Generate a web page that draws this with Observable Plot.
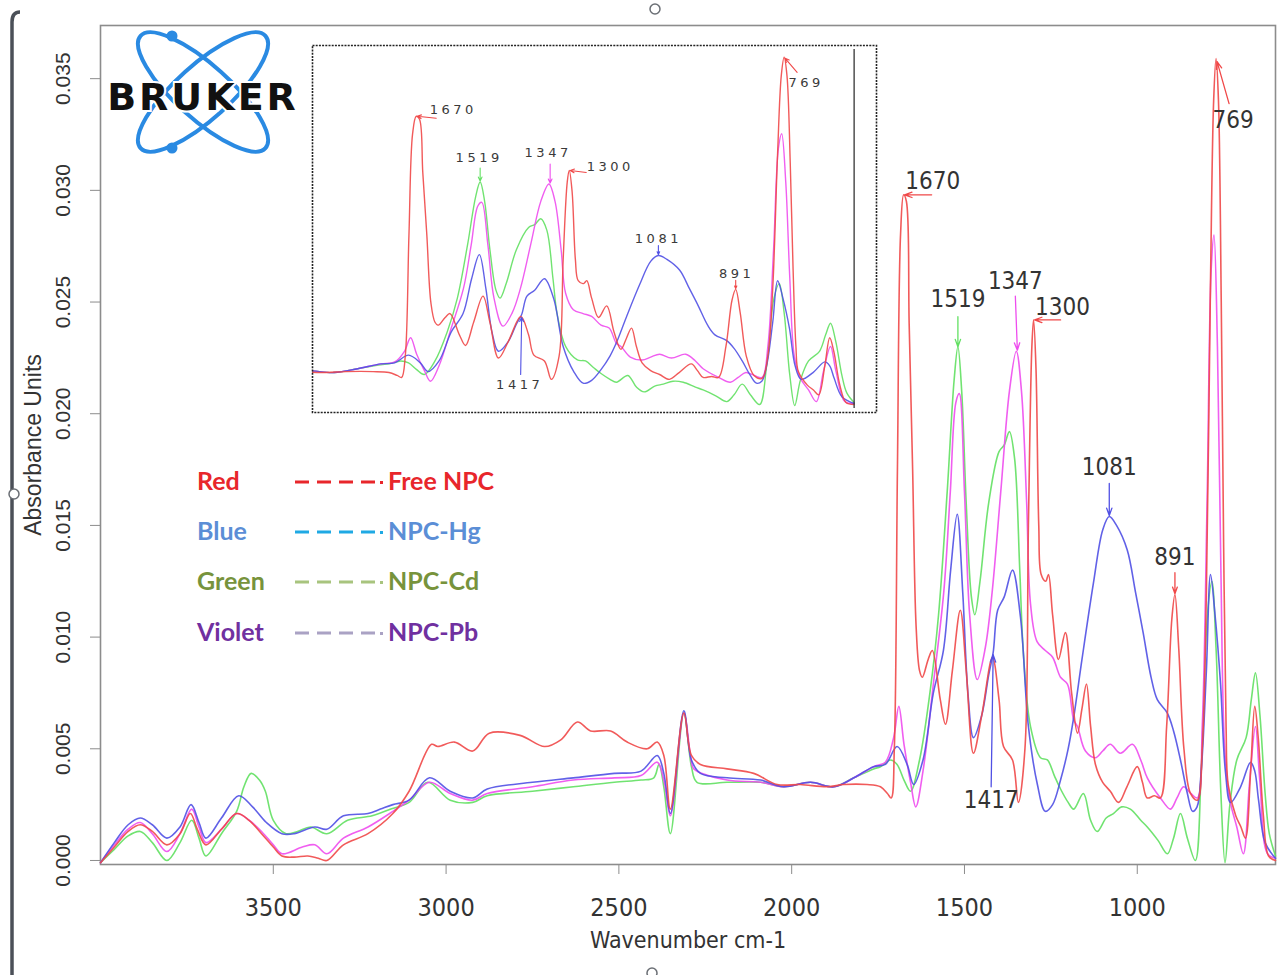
<!DOCTYPE html>
<html><head><meta charset="utf-8">
<script src="https://cdn.jsdelivr.net/npm/d3@7"></script>
<script src="https://cdn.jsdelivr.net/npm/@observablehq/plot@0.6"></script>
<style>
html,body{margin:0;padding:0;background:#fff;}
#wrap{position:relative;width:1285px;height:975px;overflow:hidden;background:#fff;}
#wrap > svg, #wrap > div{position:absolute;}
.lg{position:absolute;font-family:Lato,"Open Sans",sans-serif;font-weight:700;font-size:25px;line-height:1;white-space:nowrap;transform:translateY(-50%);}
</style></head><body><div id="wrap"></div>
<script>
// ---------------- DATA (wavenumber cm-1, absorbance) ----------------
const freeNPC = [
[4000,-0.0001],[3960,0.0006],[3920,0.0013],[3885,0.0016],[3850,0.0013],[3808,0.0007],[3770,0.0012],[3740,0.0021],[3720,0.0014],[3695,0.0007],[3650,0.0014],[3606,0.0021],[3570,0.0018],[3534,0.0012],[3500,0.0006],[3475,0.0002],[3440,0.00015],[3400,0.0002],[3370,0.0001],[3345,0.0],[3297,0.0007],[3226,0.0012],[3154,0.0021],[3107,0.0031],[3042,0.0052],[3024,0.0051],[2976,0.0053],[2923,0.0049],[2875,0.0057],[2786,0.0056],[2715,0.0051],[2668,0.0054],[2620,0.0062],[2582,0.0058],[2524,0.0058],[2476,0.0053],[2418,0.0050],[2389,0.0053],[2370,0.0047],[2351,0.0023],[2312,0.0066],[2290,0.0047],[2264,0.0043],[2187,0.0041],[2110,0.0039],[2042,0.0034],[1975,0.0034],[1897,0.0033],[1849,0.0034],[1782,0.0034],[1743,0.0033],[1723,0.0030],[1712,0.0028],[1703,0.0050],[1694,0.0175],[1685,0.0280],[1676,0.0298],[1668,0.0295],[1660,0.0240],[1650,0.0175],[1640,0.0105],[1630,0.0085],[1622,0.0082],[1605,0.0090],[1593,0.0094],[1570,0.0072],[1555,0.0061],[1535,0.0085],[1512,0.0112],[1495,0.0085],[1474,0.0048],[1450,0.0065],[1419,0.0091],[1400,0.0072],[1387,0.0051],[1361,0.0045],[1344,0.0026],[1325,0.0050],[1315,0.0150],[1305,0.0230],[1300,0.0242],[1293,0.0220],[1285,0.0150],[1278,0.0128],[1265,0.0125],[1257,0.0128],[1245,0.0110],[1228,0.0090],[1208,0.0102],[1190,0.0075],[1173,0.0057],[1160,0.0068],[1147,0.0079],[1135,0.0060],[1121,0.0043],[1100,0.0035],[1078,0.0031],[1054,0.0026],[1030,0.0033],[1000,0.0042],[985,0.0035],[971,0.0028],[950,0.0029],[933,0.0028],[915,0.0060],[900,0.0108],[891,0.0119],[880,0.0095],[865,0.0050],[846,0.0030],[826,0.0027],[812,0.0050],[800,0.0120],[788,0.0260],[779,0.0340],[772,0.0359],[765,0.0340],[757,0.0250],[750,0.0140],[743,0.0060],[737,0.0034],[715,0.0020],[700,0.0015],[687,0.0010],[672,0.0040],[660,0.0069],[650,0.0055],[635,0.0020],[620,0.0002],[600,0.0]
];
const npcHg = [
[4000,-0.0001],[3960,0.0008],[3920,0.0016],[3885,0.0019],[3850,0.0016],[3808,0.0010],[3770,0.0015],[3738,0.0025],[3715,0.0017],[3695,0.0010],[3650,0.0019],[3600,0.0029],[3560,0.0024],[3520,0.0017],[3475,0.0012],[3440,0.0012],[3380,0.0015],[3345,0.0014],[3297,0.0020],[3226,0.0021],[3190,0.0023],[3154,0.0025],[3107,0.0027],[3048,0.0037],[2988,0.0031],[2923,0.0028],[2881,0.0032],[2750,0.0035],[2632,0.0037],[2513,0.0039],[2436,0.0040],[2389,0.0047],[2370,0.0039],[2351,0.0021],[2312,0.0067],[2290,0.0045],[2264,0.0039],[2187,0.0037],[2090,0.0036],[2023,0.0033],[1946,0.0035],[1878,0.0033],[1820,0.0037],[1763,0.0042],[1729,0.0043],[1695,0.0051],[1666,0.0043],[1647,0.0034],[1620,0.0045],[1590,0.0075],[1561,0.0094],[1540,0.0130],[1521,0.0155],[1505,0.0120],[1490,0.0075],[1474,0.0055],[1450,0.0065],[1430,0.0083],[1417,0.0093],[1404,0.0112],[1385,0.0118],[1361,0.0130],[1338,0.0109],[1315,0.0060],[1289,0.0034],[1266,0.0022],[1245,0.0025],[1222,0.0036],[1200,0.0050],[1184,0.0064],[1160,0.0090],[1127,0.0124],[1100,0.0148],[1081,0.0154],[1060,0.0150],[1029,0.0139],[1005,0.0120],[983,0.0102],[960,0.0082],[942,0.0072],[913,0.0066],[895,0.0058],[875,0.0045],[855,0.0030],[840,0.0022],[827,0.0024],[815,0.0040],[800,0.0085],[788,0.0128],[775,0.0110],[759,0.0079],[745,0.0040],[730,0.0026],[701,0.0033],[672,0.0044],[660,0.0040],[649,0.0027],[630,0.0008],[600,0.0001]
];
const npcCd = [
[4000,-0.0001],[3960,0.0005],[3920,0.0011],[3885,0.0013],[3850,0.0008],[3808,0.0],[3770,0.0008],[3736,0.0018],[3715,0.0010],[3695,0.0002],[3650,0.0012],[3606,0.0022],[3585,0.0033],[3564,0.0039],[3540,0.0036],[3523,0.0031],[3500,0.0018],[3463,0.0012],[3430,0.0013],[3392,0.0015],[3345,0.0012],[3285,0.0018],[3214,0.0020],[3160,0.0023],[3107,0.0026],[3053,0.0035],[2988,0.0027],[2923,0.0026],[2881,0.0029],[2750,0.0031],[2632,0.0033],[2513,0.0035],[2436,0.0036],[2399,0.0037],[2384,0.0043],[2370,0.0033],[2351,0.0012],[2312,0.0066],[2290,0.0042],[2274,0.0035],[2187,0.0035],[2090,0.0035],[2023,0.0033],[1946,0.0035],[1878,0.0033],[1820,0.0037],[1763,0.0041],[1743,0.0042],[1714,0.0045],[1695,0.0043],[1675,0.0036],[1656,0.0031],[1630,0.0045],[1600,0.0075],[1575,0.0110],[1550,0.0165],[1530,0.0215],[1519,0.0230],[1508,0.0210],[1495,0.0160],[1480,0.0118],[1470,0.0110],[1455,0.0125],[1430,0.0160],[1400,0.0183],[1385,0.0186],[1370,0.0192],[1355,0.0180],[1340,0.0130],[1330,0.0094],[1309,0.0060],[1280,0.0046],[1260,0.0045],[1240,0.0038],[1222,0.0032],[1200,0.0026],[1184,0.0023],[1156,0.0030],[1135,0.0018],[1116,0.0013],[1090,0.0019],[1069,0.0021],[1045,0.0024],[1020,0.0023],[990,0.0018],[971,0.0015],[940,0.0009],[913,0.0003],[895,0.0010],[875,0.0021],[855,0.0010],[832,0.0],[815,0.0040],[797,0.0110],[784,0.0125],[772,0.0095],[758,0.0030],[746,-0.0001],[732,0.0025],[712,0.0045],[685,0.0055],[670,0.0072],[658,0.0084],[645,0.0065],[630,0.0030],[618,0.0012],[600,0.0002]
];
const npcPb = [
[4000,-0.0001],[3960,0.0007],[3920,0.0014],[3885,0.0017],[3850,0.0012],[3808,0.0004],[3770,0.0012],[3736,0.0023],[3715,0.0015],[3695,0.0008],[3650,0.0014],[3606,0.0021],[3570,0.0018],[3534,0.0013],[3500,0.0007],[3475,0.0003],[3416,0.0006],[3380,0.0007],[3345,0.0003],[3297,0.0010],[3226,0.0015],[3154,0.0022],[3107,0.0027],[3048,0.0035],[2988,0.0030],[2923,0.0027],[2881,0.0030],[2750,0.0033],[2632,0.0036],[2513,0.0037],[2436,0.0038],[2389,0.0044],[2370,0.0036],[2351,0.0020],[2312,0.0066],[2290,0.0044],[2283,0.0041],[2187,0.0036],[2090,0.0035],[2023,0.0033],[1946,0.0035],[1878,0.0033],[1820,0.0037],[1763,0.0042],[1729,0.0044],[1705,0.0055],[1690,0.0069],[1675,0.0052],[1656,0.0035],[1641,0.0024],[1620,0.0040],[1590,0.0079],[1560,0.0120],[1541,0.0165],[1525,0.0205],[1515,0.0209],[1500,0.0165],[1485,0.0110],[1463,0.0081],[1440,0.0095],[1420,0.0120],[1395,0.0165],[1370,0.0210],[1350,0.0228],[1335,0.0210],[1320,0.0160],[1309,0.0115],[1290,0.0098],[1266,0.0094],[1245,0.0091],[1222,0.0082],[1202,0.0079],[1184,0.0063],[1173,0.0060],[1150,0.0049],[1121,0.0046],[1100,0.0049],[1078,0.0052],[1049,0.0048],[1014,0.0052],[990,0.0045],[971,0.0037],[933,0.0028],[904,0.0023],[885,0.0028],[866,0.0033],[845,0.0030],[826,0.0028],[812,0.0060],[798,0.0160],[786,0.0265],[778,0.0280],[768,0.0230],[758,0.0130],[747,0.0050],[732,0.0027],[712,0.0015],[693,0.0003],[675,0.0035],[658,0.0060],[645,0.0035],[623,0.0003],[600,0.0001]
];

const seriesNames = ["Free NPC", "NPC-Hg", "NPC-Cd", "NPC-Pb"];
const seriesColors = ["#f04848", "#5050e4", "#62e062", "#ee4cee"];
const xTicks = [3500, 3000, 2500, 2000, 1500, 1000];
const yTicks = [0, 0.005, 0.010, 0.015, 0.020, 0.025, 0.030, 0.035];

const peakLabel  = ["1670", "1519", "1347", "1300", "1081", "891", "769", "1417"];
const peakSeries = ["Free NPC", "NPC-Cd", "NPC-Pb", "Free NPC", "NPC-Hg", "Free NPC", "Free NPC", "NPC-Hg"];
const peakWave   = [1676, 1519, 1347, 1300, 1081, 891, 772, 1417];
const peakAbs    = [0.0298, 0.0230, 0.0228, 0.0242, 0.0154, 0.0119, 0.0359, 0.0093];

const legendColor = ["Red", "Blue", "Green", "Violet"];
const legendName  = ["Free NPC", "NPC-Hg", "NPC-Cd", "NPC-Pb"];

// ---------------- build tables ----------------
const drawOrder = [["NPC-Cd", npcCd], ["NPC-Pb", npcPb], ["NPC-Hg", npcHg], ["Free NPC", freeNPC]];
const rows = drawOrder.flatMap(([name, arr]) => arr.map(([w, a]) => ({series: name, w, a})));
const peaks = peakLabel.map((label, i) => ({label, series: peakSeries[i], w: peakWave[i], a: peakAbs[i]}));

// ---------------- layout ----------------
const W = 1285, H = 975;
const M = {l: 100, r: 10, t: 25, b: 111};
const xDom = [4000, 600], yDom = [-0.00018, 0.03738];
const kx = (W - M.l - M.r) / (xDom[0] - xDom[1]);
const ky = (H - M.t - M.b) / (yDom[1] - yDom[0]);

// pixel offsets for main annotations: label, arrow start, arrow end (relative to peak)
const mainLab  = [[29,-14],[0,-47],[-2,-70],[29,-13],[0,-49],[0,-37],[17,62],[-2,148]];
const mainFrom = [[28,0],[0,-30],[-2,-55],[27,0],[0,-33],[0,-22],[13,45],[-2,134]];
const mainTo   = [[1,0],[0,0],[0,-1],[1,0],[0,-1],[0,-1],[1,3],[0,2]];

const colorOf = Object.fromEntries(seriesNames.map((s, i) => [s, seriesColors[i]]));
const numFont = '"Liberation Sans Narrow","Arial Narrow","DejaVu Sans Condensed",sans-serif';

const main = Plot.plot({
  width: W, height: H,
  marginLeft: M.l, marginRight: M.r, marginTop: M.t, marginBottom: M.b,
  style: {background: "transparent", color: "#333", fontFamily: "Liberation Sans, Arial, sans-serif"},
  x: {domain: xDom, ticks: xTicks},
  y: {domain: yDom},
  color: {domain: seriesNames, range: seriesColors},
  marks: [
    Plot.frame({stroke: "#8c8c8c", strokeWidth: 1.6}),
    Plot.axisX({ticks: xTicks, tickSize: 10, tickPadding: 24, tickFormat: d => String(d), label: null,
      fontSize: 25, fontFamily: numFont, stroke: "#8c8c8c", fill: "#333"}),
    Plot.axisY({ticks: yTicks, tickSize: 10, tickFormat: () => "", label: null, stroke: "#8c8c8c"}),
    Plot.text(yTicks, {y: d => d, text: d => d.toFixed(3), frameAnchor: "left", textAnchor: "middle",
      dx: -37, rotate: -90, fontSize: 21, fill: "#333"}),
    Plot.text(["Absorbance Units"], {frameAnchor: "left", textAnchor: "middle", dx: -67, rotate: -90, fontSize: 23, fill: "#333"}),
    Plot.text(["Wavenumber cm-1"], {frameAnchor: "bottom", dy: 83, fontSize: 23, fontFamily: numFont, fill: "#333"}),
    Plot.line(rows, {x: "w", y: "a", z: "series", stroke: "series", curve: "catmull-rom", strokeWidth: 1.6, strokeOpacity: 0.9}),
    Plot.arrow(peaks, {
      x1: (d, i) => d.w - mainFrom[i][0] / kx, y1: (d, i) => d.a - mainFrom[i][1] / ky,
      x2: (d, i) => d.w - mainTo[i][0] / kx, y2: (d, i) => d.a - mainTo[i][1] / ky,
      stroke: d => colorOf[d.series], strokeWidth: 1.3, headLength: 9, headAngle: 40
    }),
    Plot.text(peaks, {x: (d, i) => d.w - mainLab[i][0] / kx, y: (d, i) => d.a - mainLab[i][1] / ky,
      text: "label", fontSize: 24, fontFamily: numFont, fill: "#333"})
  ]
});
main.style.left = "0px"; main.style.top = "0px";

// ---------------- inset ----------------
const IX = 310, IY = 43, IW = 568, IH = 371;
const ixDom = [1931, 545], iyDom = [-0.00083, 0.03712];
const ikx = (IW - 4) / (ixDom[0] - ixDom[1]);
const iky = (IH - 4) / (iyDom[1] - iyDom[0]);
const inLab  = [[37,-6],[-1,-24],[-2,-31],[41,-4],[0,-17],[1,-16],[22,26],[-2,70]];
const inFrom = [[20,2],[0,-14],[0,-20],[17,2],[0,-10],[0,-9],[13,15],[-1,60]];
const inTo   = [[1,0],[0,-1],[0,-1],[1,0],[0,-1],[0,-1],[1,1],[0,3]];

const inset = Plot.plot({
  width: IW, height: IH, marginLeft: 2, marginRight: 2, marginTop: 2, marginBottom: 2,
  style: {background: "transparent", color: "#333", fontFamily: "DejaVu Sans, sans-serif"},
  x: {domain: ixDom, axis: null},
  y: {domain: iyDom, axis: null},
  color: {domain: seriesNames, range: seriesColors},
  marks: [
    Plot.line(rows.filter(d => d.w <= 2110), {x: "w", y: "a", z: "series", stroke: "series", curve: "catmull-rom", strokeWidth: 1.4, strokeOpacity: 0.9, clip: true}),
    Plot.ruleX([600], {stroke: "#333", strokeWidth: 1.3, inset: 4}),
    Plot.frame({stroke: "#222", strokeWidth: 1.6, strokeDasharray: "2,1.2"}),
    Plot.arrow(peaks, {
      x1: (d, i) => d.w - inFrom[i][0] / ikx, y1: (d, i) => d.a - inFrom[i][1] / iky,
      x2: (d, i) => d.w - inTo[i][0] / ikx, y2: (d, i) => d.a - inTo[i][1] / iky,
      stroke: d => colorOf[d.series], strokeWidth: 1.1, headLength: 6, headAngle: 50
    }),
    Plot.text(peaks, {x: (d, i) => d.w - inLab[i][0] / ikx, y: (d, i) => d.a - inLab[i][1] / iky,
      text: "label", fontSize: 13, fill: "#3a3a3a"})
  ]
});
inset.style.left = IX + "px"; inset.style.top = IY + "px";
inset.querySelectorAll("text").forEach(t => t.setAttribute("letter-spacing", "3.5"));

// ---------------- decorations: logo, handles ----------------
const deco = `
<svg width="${W}" height="${H}" style="left:0;top:0" xmlns="http://www.w3.org/2000/svg">
  <path d="M12,975 L12,22 Q12,12 20,12" fill="none" stroke="#4b5058" stroke-width="3.5"/>
  <circle cx="14" cy="494" r="5" fill="#fff" stroke="#6b6f75" stroke-width="1.5"/>
  <circle cx="655" cy="9" r="5" fill="#fff" stroke="#6b6f75" stroke-width="1.5"/>
  <circle cx="652" cy="973" r="5" fill="#fff" stroke="#6b6f75" stroke-width="1.5"/>
  <g transform="translate(203,92)">
    <ellipse rx="84" ry="27" transform="rotate(42)" fill="none" stroke="#2a8ae2" stroke-width="4"/>
    <ellipse rx="84" ry="27" transform="rotate(-42)" fill="none" stroke="#2a8ae2" stroke-width="4"/>
  </g>
  <circle cx="172" cy="36" r="5.5" fill="#2a8ae2"/>
  <circle cx="172" cy="148" r="5.5" fill="#2a8ae2"/>
  <text x="203" y="110" text-anchor="middle" font-family="DejaVu Sans, sans-serif" font-weight="bold"
    font-size="38" letter-spacing="3" fill="#111" stroke="#fff" stroke-width="4" paint-order="stroke">BRUKER</text>
</svg>`;

const wrap = document.getElementById("wrap");
wrap.appendChild(main);
wrap.appendChild(inset);
wrap.insertAdjacentHTML("beforeend", deco);

// legend (text + dashed samples)
const lgText = ["#e8262b", "#5b8ed6", "#77933c", "#7030a0"];
const lgDash = ["#e8262b", "#1fa9e4", "#a8c47e", "#aaa2c4"];
const rowsY = [480, 530, 580, 631];
let dashSvg = `<svg width="${W}" height="${H}" style="left:0;top:0;pointer-events:none" xmlns="http://www.w3.org/2000/svg">`;
legendColor.forEach((c, i) => {
  const y = rowsY[i];
  wrap.insertAdjacentHTML("beforeend", `<div class="lg" style="left:197px;top:${y}px;color:${lgText[i]}">${c}</div>`);
  wrap.insertAdjacentHTML("beforeend", `<div class="lg" style="left:388px;top:${y}px;color:${lgText[i]}">${legendName[i]}</div>`);
  dashSvg += `<line x1="295" x2="375" y1="${y + 2}" y2="${y + 2}" stroke="${lgDash[i]}" stroke-width="3" stroke-dasharray="14,8"/>`;
  dashSvg += `<rect x="380" y="${y + 1}" width="3" height="3" fill="${lgDash[i]}"/>`;
});
dashSvg += `</svg>`;
wrap.insertAdjacentHTML("beforeend", dashSvg);
</script></body></html>
